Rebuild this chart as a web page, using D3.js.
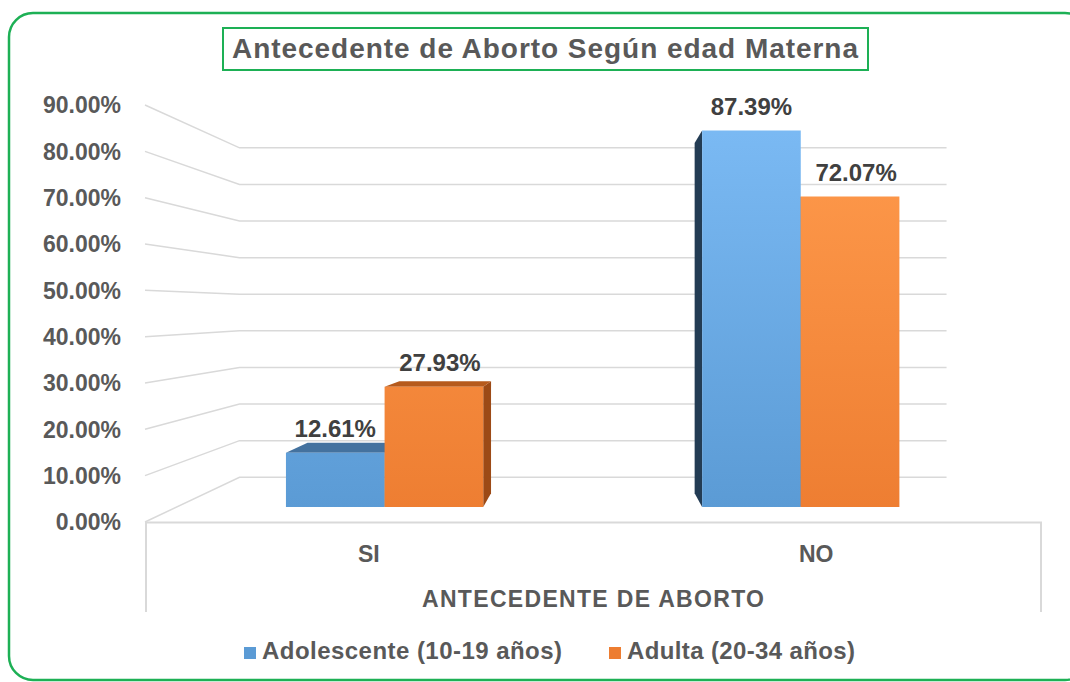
<!DOCTYPE html>
<html>
  <head>
    <script src="https://d3js.org/d3.v7.min.js" charset="utf-8"></script>
    <style type="text/css">
      body {
        margin: 0;
        background: #ffffff;
        font-family: "Liberation Sans", Arial, sans-serif;
      }
      text {
        font-weight: bold;
        fill: #595959;
      }
    </style>
  </head>
  <body>
    <script type="text/javascript">
      // Data
      var categories = ["SI", "NO"];
      var seriesNames = ["Adolescente (10-19 años)", "Adulta (20-34 años)"];
      var adolescente = [12.61, 87.39];
      var adulta = [27.93, 72.07];
      var tickValues = [0, 10, 20, 30, 40, 50, 60, 70, 80, 90];
      var titleText = "Antecedente de Aborto Según edad Materna";
      var axisTitle = "ANTECEDENTE DE ABORTO";

      var w = 1070, h = 682;

      var svg = d3.select("body").append("svg")
          .attr("width", w)
          .attr("height", h);

      // fake 3D: everything is laid out on the front plane, then pulled to the vanishing point
      var vp = { x: 595, y: 309 },
          sBarFront = 0.93,   // depth of the bar front faces
          sBarBack = 0.865,   // depth of the bar back faces
          sWall = 0.79;       // depth of the back wall

      var yScale = d3.scaleLinear().domain([0, 90]).range([522, 105]);
      var xBand = d3.scaleBand().domain(categories).range([145, 1040])
          .paddingInner(0.526).paddingOuter(0.263);
      var xSeries = d3.scaleBand().domain([0, 1]).range([0, xBand.bandwidth()]);

      function project(X, v, s) {
        return [vp.x + (X - vp.x) * s, vp.y + (yScale(v) - vp.y) * s];
      }

      var colors = [
        { front: "url(#gBlue)", top: "#44729f", side: "#233c54" },
        { front: "url(#gOrange)", top: "#b65a1c", side: "#9c4a16" }
      ];

      // gradients (lighter towards the top of the plot)
      var defs = svg.append("defs");
      function grad(id, c1, c2) {
        var g = defs.append("linearGradient").attr("id", id)
            .attr("gradientUnits", "userSpaceOnUse")
            .attr("x1", 0).attr("x2", 0).attr("y1", 120).attr("y2", 507);
        g.append("stop").attr("offset", "0%").attr("stop-color", c1);
        g.append("stop").attr("offset", "100%").attr("stop-color", c2);
      }
      grad("gBlue", "#7bbaf4", "#5b9bd5");
      grad("gOrange", "#ff9b4d", "#ee7e32");

      // outer green frame
      svg.append("rect")
          .attr("x", 9).attr("y", 13)
          .attr("width", 1080).attr("height", 667)
          .attr("rx", 24)
          .attr("fill", "#ffffff")
          .attr("stroke", "#1db055")
          .attr("stroke-width", 2.5);

      // gridlines: left wall + back wall
      var grid = svg.append("g")
          .attr("fill", "none")
          .attr("stroke", "#d9d9d9")
          .attr("stroke-width", 1.5);

      tickValues.forEach(function (v) {
        var a = [145, yScale(v)],
            b = project(145, v, sWall),
            c = project(1040, v, sWall);
        grid.append("path").attr("d", "M" + a + "L" + b + "L" + c);
      });

      // floor front edge and the category axis box
      svg.append("path")
          .attr("d", "M146,612L146,522.5L1041,522.5L1041,612")
          .attr("fill", "none")
          .attr("stroke", "#d9d9d9")
          .attr("stroke-width", 2);

      // tick labels
      svg.append("g").selectAll("text")
          .data(tickValues)
          .enter()
          .append("text")
          .attr("x", 121)
          .attr("y", function (d) { return yScale(d); })
          .attr("dy", "0.36em")
          .attr("text-anchor", "end")
          .style("font-size", "23px")
          .text(function (d) { return d3.format(".2f")(d) + "%"; });

      // build bars
      var bars = [];
      categories.forEach(function (c, i) {
        [adolescente[i], adulta[i]].forEach(function (v, k) {
          var x0 = xBand(c) + xSeries(k),
              x1 = x0 + xSeries.bandwidth();
          bars.push({ cat: c, k: k, v: v, x0: x0, x1: x1 });
        });
      });

      function poly(pts) {
        return "M" + pts.join("L") + "Z";
      }

      var barG = svg.append("g");

      // side and top faces first
      bars.forEach(function (d) {
        var col = colors[d.k];
        var mid = (d.x0 + d.x1) / 2;
        var sx = mid < vp.x ? d.x1 : d.x0;
        barG.append("path")
            .attr("d", poly([project(sx, 0, sBarFront), project(sx, d.v, sBarFront),
                             project(sx, d.v, sBarBack), project(sx, 0, sBarBack)]))
            .attr("fill", col.side);
        if (yScale(d.v) > vp.y) {
          barG.append("path")
              .attr("d", poly([project(d.x0, d.v, sBarFront), project(d.x1, d.v, sBarFront),
                               project(d.x1, d.v, sBarBack), project(d.x0, d.v, sBarBack)]))
              .attr("fill", col.top);
        }
      });

      // then front faces
      bars.forEach(function (d) {
        barG.append("path")
            .attr("d", poly([project(d.x0, 0, sBarFront), project(d.x1, 0, sBarFront),
                             project(d.x1, d.v, sBarFront), project(d.x0, d.v, sBarFront)]))
            .attr("fill", colors[d.k].front);
      });

      // value labels
      svg.append("g").selectAll("text")
          .data(bars)
          .enter()
          .append("text")
          .attr("x", function (d) {
            var p0 = project(d.x0, d.v, sBarFront), p1 = project(d.x1, d.v, sBarFront);
            return (p0[0] + p1[0]) / 2 + (d.k === 1 ? 6 : 0);
          })
          .attr("y", function (d) { return project(d.x0, d.v, sBarFront)[1] - 15.5; })
          .attr("text-anchor", "middle")
          .style("font-size", "24px")
          .style("fill", "#404040")
          .text(function (d) { return d3.format(".2f")(d.v) + "%"; });

      // category labels
      svg.append("g").selectAll("text")
          .data(categories)
          .enter()
          .append("text")
          .attr("x", function (d) { return xBand(d) + xBand.bandwidth() / 2; })
          .attr("y", 562)
          .attr("text-anchor", "middle")
          .style("font-size", "23px")
          .text(function (d) { return d; });

      // axis title
      svg.append("text")
          .attr("x", 593)
          .attr("y", 607)
          .attr("text-anchor", "middle")
          .style("font-size", "23px")
          .attr("textLength", 342)
          .text(axisTitle);

      // title in a green box
      svg.append("rect")
          .attr("x", 223).attr("y", 28)
          .attr("width", 645).attr("height", 42)
          .attr("fill", "#ffffff")
          .attr("stroke", "#1db055")
          .attr("stroke-width", 2);
      svg.append("text")
          .attr("x", 545)
          .attr("y", 58)
          .attr("text-anchor", "middle")
          .style("font-size", "28px")
          .attr("textLength", 626)
          .text(titleText);

      // legend
      var legendX = [244, 609],
          legendLen = [300, 228];
      var legend = svg.append("g").selectAll("g")
          .data(seriesNames)
          .enter()
          .append("g")
          .attr("transform", function (d, i) { return "translate(" + legendX[i] + ",647)"; });
      legend.append("rect")
          .attr("width", 12).attr("height", 12)
          .attr("fill", function (d, i) { return i === 0 ? "#5b9bd5" : "#ed7d31"; });
      legend.append("text")
          .attr("x", 18)
          .attr("y", 12)
          .style("font-size", "24px")
          .attr("textLength", function (d, i) { return legendLen[i]; })
          .text(function (d) { return d; });
    </script>
  </body>
</html>
